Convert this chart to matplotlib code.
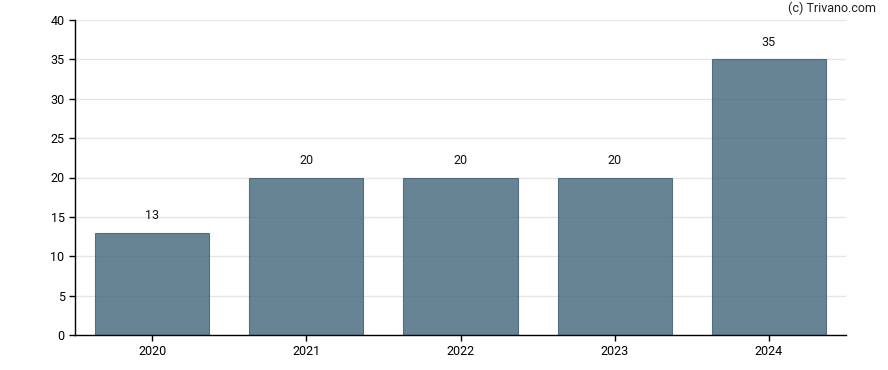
import matplotlib
matplotlib.use("Agg")
import matplotlib.pyplot as plt

plt.rcParams['font.family'] = ['Roboto', 'DejaVu Sans']

years = ["2020", "2021", "2022", "2023", "2024"]
values = [13, 20, 20, 20, 35]
yticks = [0, 5, 10, 15, 20, 25, 30, 35, 40]

fig = plt.figure(figsize=(8.88, 3.70), dpi=100)
ax = fig.add_axes([75/888, 35/370, (846-75)/888, (335-20)/370])

x = list(range(len(years)))
ax.set_axisbelow(True)
ax.yaxis.grid(True, color='#e6e6e6', linewidth=1)
bars = ax.bar(x, values, width=0.74, color='#416579', alpha=0.8,
              edgecolor='#3d5a6e', linewidth=0.8)
for xi, v in zip(x, values):
    ax.text(xi, v + 1.35, str(v), ha='center', va='bottom', fontsize=9, color='#111111')

ax.set_xlim(-0.5, 4.5)
ax.set_ylim(0, 40)
ax.set_yticks(yticks)
ax.set_xticks(x)
ax.set_xticklabels(years)
ax.tick_params(labelsize=9, colors='#000000', length=4, width=1)
for s in ['top', 'right']:
    ax.spines[s].set_visible(False)
for s in ['left', 'bottom']:
    ax.spines[s].set_linewidth(1)
    ax.spines[s].set_color('#000000')

fig.text(876/888, 1 - 8/370, "(c) Trivano.com", ha='right', va='center', fontsize=9, color='#222222')

fig.savefig("out.png", dpi=100)
